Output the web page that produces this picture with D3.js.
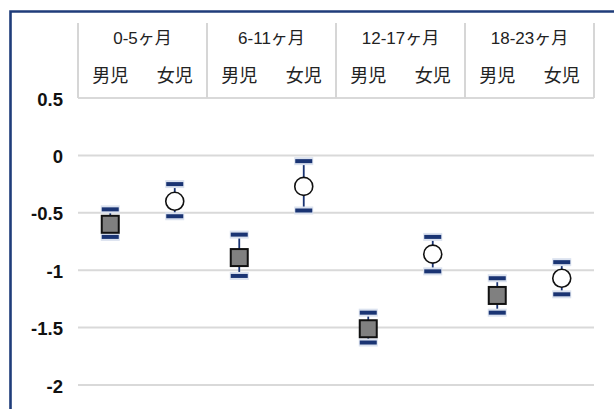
<!DOCTYPE html>
<html>
<head>
<meta charset="utf-8">
<script src="https://cdn.jsdelivr.net/npm/d3@7"></script>
<style>
  html, body { margin: 0; padding: 0; background: #fff; }
  svg { display: block; }
</style>
</head>
<body>
<svg id="chart" width="614" height="409"></svg>
<script>
// Age groups and sexes
const ageGroups = ["0-5ヶ月", "6-11ヶ月", "12-17ヶ月", "18-23ヶ月"];
const sexes = ["男児", "女児"];

// Mean z-scores per age group (boys, girls)
const boysMean  = [-0.60, -0.89, -1.51, -1.22];
const girlsMean = [-0.40, -0.27, -0.86, -1.07];

// Confidence interval bounds
const boysLow   = [-0.71, -1.05, -1.63, -1.37];
const boysHigh  = [-0.47, -0.69, -1.37, -1.07];
const girlsLow  = [-0.53, -0.48, -1.01, -1.21];
const girlsHigh = [-0.25, -0.05, -0.71, -0.93];

// Y axis ticks
const yTicks = [0.5, 0, -0.5, -1, -1.5, -2];

const svg = d3.select("#chart");
const plotLeft = 78, plotRight = 594, plotTop = 98, plotBottom = 385;

const y = d3.scaleLinear().domain([0.5, -2]).range([plotTop, plotBottom]);
const xGroup = d3.scaleBand().domain(ageGroups).range([plotLeft, plotRight]).padding(0);
const xSex = d3.scalePoint().domain(sexes).range([0, xGroup.bandwidth()]).padding(0.5);

// Outer frame
svg.append("path")
  .attr("d", "M10.5,420 V11.5 H620")
  .attr("fill", "none")
  .attr("stroke", "#1f3c7a")
  .attr("stroke-width", 2.6);

// Gridlines
svg.append("g").selectAll("line").data(yTicks).join("line")
  .attr("x1", plotLeft).attr("x2", plotRight)
  .attr("y1", d => y(d)).attr("y2", d => y(d))
  .attr("stroke", "#d9d9d9").attr("stroke-width", 2);

// Y tick labels
svg.append("g").selectAll("text").data(yTicks).join("text")
  .attr("x", 63).attr("y", d => y(d) + 1)
  .attr("dy", "0.36em")
  .attr("text-anchor", "end")
  .attr("font-family", "'Liberation Sans', Arial, sans-serif")
  .attr("font-weight", "bold")
  .attr("font-size", 18.5)
  .attr("fill", "#111")
  .text(d => String(d));

// Header table
const header = svg.append("g");
const bounds = ageGroups.map(g => xGroup(g)).concat([plotRight]);
header.selectAll("line.v").data(bounds).join("line")
  .attr("class", "v")
  .attr("x1", d => d).attr("x2", d => d)
  .attr("y1", 23).attr("y2", plotTop)
  .attr("stroke", "#d6d6d6").attr("stroke-width", 2);

header.selectAll("text.age").data(ageGroups).join("text")
  .attr("class", "age")
  .attr("x", d => xGroup(d) + xGroup.bandwidth() / 2)
  .attr("y", 38)
  .attr("dy", "0.35em")
  .attr("text-anchor", "middle")
  .attr("font-family", "'Liberation Sans', 'Noto Sans CJK JP', sans-serif")
  .attr("font-size", 17)
  .attr("fill", "#222")
  .text(d => d);

const sexLabels = ageGroups.flatMap(g => sexes.map(s => ({ g, s })));
header.selectAll("text.sex").data(sexLabels).join("text")
  .attr("class", "sex")
  .attr("x", d => xGroup(d.g) + xSex(d.s))
  .attr("y", 75.5)
  .attr("dy", "0.35em")
  .attr("text-anchor", "middle")
  .attr("font-family", "'Noto Sans CJK JP', sans-serif")
  .attr("font-size", 18)
  .attr("fill", "#222")
  .text(d => d.s);

// Build point records
const points = ageGroups.flatMap((g, i) => [
  { g, s: sexes[0], mean: boysMean[i], lo: boysLow[i], hi: boysHigh[i] },
  { g, s: sexes[1], mean: girlsMean[i], lo: girlsLow[i], hi: girlsHigh[i] }
]);
const px = d => xGroup(d.g) + xSex(d.s);

const marks = svg.append("g");

// Error bar stems
marks.selectAll("line.stem").data(points).join("line")
  .attr("class", "stem")
  .attr("x1", px).attr("x2", px)
  .attr("y1", d => y(d.hi)).attr("y2", d => y(d.lo))
  .attr("stroke", "#1a3473").attr("stroke-width", 1.8);

// Caps with soft halo
const caps = points.flatMap(d => [{ x: px(d), v: d.hi }, { x: px(d), v: d.lo }]);
marks.selectAll("rect.halo").data(caps).join("rect")
  .attr("class", "halo")
  .attr("x", d => d.x - 9.5).attr("y", d => y(d.v) - 4)
  .attr("width", 19).attr("height", 8)
  .attr("fill", "#dbe2ef");
marks.selectAll("rect.cap").data(caps).join("rect")
  .attr("class", "cap")
  .attr("x", d => d.x - 8.5).attr("y", d => y(d.v) - 2)
  .attr("width", 17).attr("height", 4)
  .attr("fill", "#1a3473");

// Boys: grey squares
marks.selectAll("rect.boy").data(points.filter(d => d.s === sexes[0])).join("rect")
  .attr("class", "boy")
  .attr("x", d => px(d) - 8.5).attr("y", d => y(d.mean) - 8.5)
  .attr("width", 17).attr("height", 17)
  .attr("fill", "#808080")
  .attr("stroke", "#111").attr("stroke-width", 2);

// Girls: white circles
marks.selectAll("circle.girl").data(points.filter(d => d.s === sexes[1])).join("circle")
  .attr("class", "girl")
  .attr("cx", px).attr("cy", d => y(d.mean))
  .attr("r", 9)
  .attr("fill", "#fff")
  .attr("stroke", "#111").attr("stroke-width", 1.6);
</script>
</body>
</html>
